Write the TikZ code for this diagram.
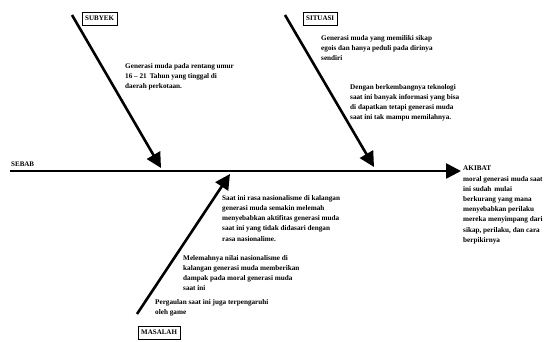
\documentclass[tikz,border=0pt]{standalone}
\usepackage{fontspec}
\setmainfont{Liberation Serif}
\usepackage{tikz}
\usetikzlibrary{positioning, arrows.meta}

\begin{document}
\begin{tikzpicture}[
    x=1pt, y=-1pt,
    bone/.style={draw=black, line width=2.6pt, -{Triangle[length=15pt, width=15pt]}},
    label/.style={draw=black, thin, fill=white, font=\bfseries\fontsize{7}{8}\selectfont, inner sep=3pt, minimum height=13pt},
    note/.style={anchor=north west, align=left, inner sep=0pt, font=\bfseries\fontsize{7.2}{10.2}\selectfont}
]

\useasboundingbox (0,0) rectangle (556,341);

% Main spine
\coordinate (spineL) at (10,171);
\coordinate (spineR) at (461,171);
\draw[bone] (spineL) -- (spineR);
\node[font=\bfseries\fontsize{7}{8}\selectfont, anchor=south west, inner sep=0pt] (sebab) at (11,167) {SEBAB};

% Subyek bone
\coordinate (subyekA) at (72,15);
\coordinate (subyekB) at (161,168);
\draw[bone] (subyekA) -- (subyekB);
\node[label, anchor=north west] (subyek) at (82,12) {SUBYEK};
\node[note] (subyekTxt) at (125,63) {Generasi muda pada rentang umur\\16 -- 21\, Tahun yang tinggal di\\daerah perkotaan.};

% Situasi bone
\coordinate (situasiA) at (285,15);
\coordinate (situasiB) at (374,167);
\draw[bone] (situasiA) -- (situasiB);
\node[label, anchor=north west] (situasi) at (303,12) {SITUASI};
\node[note] (situasiTxt) at (321,35) {Generasi muda yang memiliki sikap\\egois dan hanya peduli pada dirinya\\sendiri};
\node[note] (teknoTxt) at (350,84) {Dengan berkembangnya teknologi\\saat ini banyak informasi yang bisa\\di dapatkan tetapi generasi muda\\saat ini tak mampu memilahnya.};

% Masalah bone
\coordinate (masalahA) at (137,314);
\coordinate (masalahB) at (230,174);
\draw[bone] (masalahA) -- (masalahB);
\node[label, anchor=north west] (masalah) at (138,326) {MASALAH};
\node[note] (nasionalTxt) at (222,195) {Saat ini rasa nasionalisme di kalangan\\generasi muda semakin melemah\\menyebabkan aktifitas generasi muda\\saat ini yang tidak didasari dengan\\rasa nasionalime.};
\node[note] (nilaiTxt) at (183,255) {Melemahnya nilai nasionalisme di\\kalangan generasi muda memberikan\\dampak pada moral generasi muda\\saat ini};
\node[note] (gameTxt) at (155,299) {Pergaulan saat ini juga terpengaruhi\\oleh game};

% Akibat
\node[note] (akibat) at (463,166) {AKIBAT\\moral generasi muda saat\\ini sudah\, mulai\\berkurang yang mana\\menyebabkan perilaku\\mereka menyimpang dari\\sikap, perilaku, dan cara\\berpikirnya};

\end{tikzpicture}
\end{document}
